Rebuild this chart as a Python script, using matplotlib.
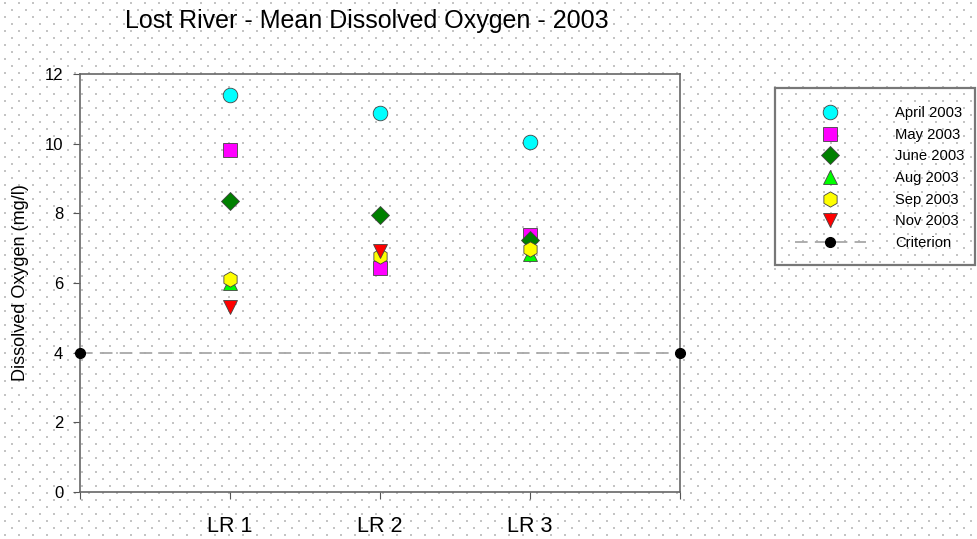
import numpy as np
import matplotlib.pyplot as plt
from matplotlib.lines import Line2D
from matplotlib.patches import Rectangle

plt.rcParams['font.family'] = ['Liberation Sans', 'DejaVu Sans']

# site positions and labels
sites = [1, 2, 3]
site_labels = ["LR 1", "LR 2", "LR 3"]

# mean dissolved oxygen (mg/l) per site; nan = no sample
april = [11.40, 10.88, 10.05]
may = [9.82, 6.43, 7.38]
june = [8.35, 7.95, 7.24]
aug = [6.00, np.nan, 6.83]
sep = [6.12, 6.78, 6.98]
nov = [5.31, 6.92, np.nan]

criterion_x = [0, 4]
criterion_y = [4, 4]

series = [
    ("April 2003", april, "o", "#00ffff", 10.5),
    ("May 2003", may, "s", "#ff00ff", 9.5),
    ("June 2003", june, "D", "#008000", 9),
    ("Aug 2003", aug, "^", "#00ff00", 10),
    ("Sep 2003", sep, "h", "#ffff00", 11),
    ("Nov 2003", nov, "v", "#ff0000", 10),
]

W, H = 978, 539
fig = plt.figure(figsize=(W / 100, H / 100), dpi=100)
fig.patch.set_facecolor("white")

# staggered dot pattern over the whole background
bg = fig.add_axes([0, 0, 1, 1], zorder=-5)
bg.set_xlim(0, W)
bg.set_ylim(H, 0)
bg.axis("off")
px, py = [], []
for i, yy in enumerate(np.arange(3, H, 7)):
    off = 0 if i % 2 == 0 else 7
    xs = np.arange(5 + off, W, 14)
    px.extend(xs)
    py.extend([yy] * len(xs))
bg.scatter(px, py, s=1.2, c="#c4c4c4", marker="s", linewidths=0)

# legend box outline
bg.add_patch(Rectangle((775, 88), 200, 177, fill=False, ec="#777777", lw=1.6))

ax = fig.add_axes([80 / W, 1 - 492 / H, 600 / W, 418 / H])
ax.set_facecolor("none")

ax.plot(criterion_x, criterion_y, color="#a8a8a8", lw=1.3, ls=(0, (7, 4)), zorder=2)
ax.plot(criterion_x, criterion_y, ls="none", marker="o", ms=7, color="black",
        zorder=6, clip_on=False)

for name, vals, mk, col, ms in series:
    ax.plot(sites, vals, ls="none", marker=mk, ms=ms, mfc=col, mec="#444444",
            mew=0.6, zorder=4)

ax.set_xlim(0, 4)
ax.set_ylim(0, 12)
ax.set_xticks([0, 1, 2, 3, 4])
ax.set_xticklabels(["", *site_labels, ""], fontsize=15.5)
ax.set_yticks(range(0, 13, 2))
ax.tick_params(axis="y", direction="out", length=5, labelsize=12, color="#555555", pad=7)
ax.tick_params(axis="x", direction="out", length=5, color="#555555", pad=12)
for s in ax.spines.values():
    s.set_color("#666666")
    s.set_linewidth(1.2)

ax.set_ylabel("Dissolved Oxygen (mg/l)", fontsize=13, labelpad=11)
fig.text(367 / W, 1 - 21 / H, "Lost River - Mean Dissolved Oxygen - 2003",
         fontsize=18, ha="center", va="center")

handles = [Line2D([], [], ls="none", marker=mk, ms=ms, mfc=col, mec="#444444", mew=0.6)
           for _, _, mk, col, ms in series]
handles.append(Line2D([], [], color="#a8a8a8", ls=(0, (7, 4)), lw=1.3,
                      marker="o", ms=7, mfc="black", mec="black"))
labels = [s[0] for s in series] + ["Criterion"]
leg = fig.legend(handles, labels, loc="upper left",
                 bbox_to_anchor=(776 / W, 1 - 87 / H), frameon=False,
                 fontsize=10.6, handlelength=4.8, handletextpad=2.0,
                 labelspacing=0.52, borderpad=1.3, borderaxespad=0)

fig.savefig("out.png", dpi=100)
